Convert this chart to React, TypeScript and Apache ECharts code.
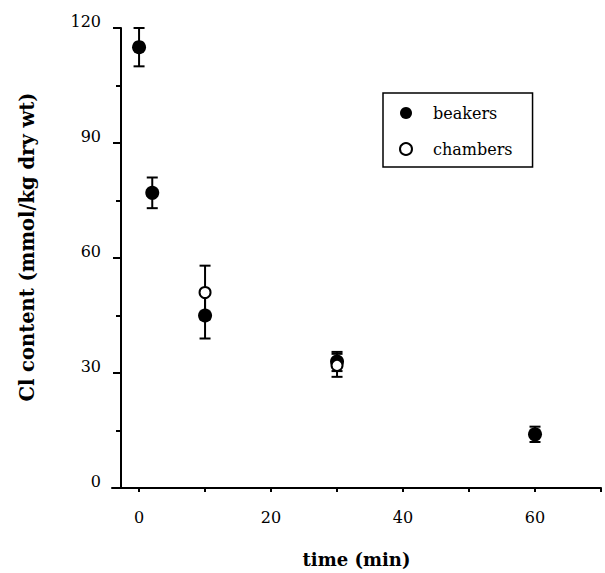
import React, { useEffect, useRef } from "react";
import * as echarts from "echarts";

const beakerTimes = [0, 2, 10, 30, 60];
const beakerMeans = [115, 77, 45, 33, 14];
const beakerErrs = [5, 4, 6, 2.5, 2];

const chamberTimes = [10, 30];
const chamberMeans = [51, 32];
const chamberErrs = [7, 3];

const xTickValues = [0, 10, 20, 30, 40, 50, 60, 70];
const xLabelValues = [0, 20, 40, 60];

const FONT = "DejaVu Serif";

function errorSeries(name: string, times: number[], means: number[], errs: number[]) {
  return {
    type: "custom",
    name,
    silent: true,
    z: 1,
    data: times.map((t, i) => [t, means[i], errs[i]]),
    renderItem: (params: any, api: any) => {
      const x = api.value(0);
      const y = api.value(1);
      const e = api.value(2);
      const top = api.coord([x, y + e]);
      const bot = api.coord([x, y - e]);
      const hw = 5.5;
      const style = { stroke: "#000", lineWidth: 2 };
      return {
        type: "group",
        children: [
          { type: "line", shape: { x1: top[0], y1: top[1], x2: bot[0], y2: bot[1] }, style },
          { type: "line", shape: { x1: top[0] - hw, y1: top[1], x2: top[0] + hw, y2: top[1] }, style },
          { type: "line", shape: { x1: bot[0] - hw, y1: bot[1], x2: bot[0] + hw, y2: bot[1] }, style },
        ],
      };
    },
  };
}

export default function App() {
  const ref = useRef<HTMLDivElement>(null);
  useEffect(() => {
    if (!ref.current) return;
    const chart = echarts.init(ref.current, null, { renderer: "svg" });
    chart.setOption({
      animation: false,
      backgroundColor: "#fff",
      grid: { left: 112, right: 4, top: 28, bottom: 82, containLabel: false },
      legend: {
        left: 383,
        top: 93,
        orient: "vertical",
        borderColor: "#000",
        borderWidth: 1.5,
        borderRadius: 0,
        padding: [12, 20, 10, 16],
        itemGap: 20,
        itemWidth: 12,
        itemHeight: 12,
        textStyle: { fontFamily: FONT, fontSize: 16, color: "#000", padding: [0, 0, 0, 16] },
        data: [
          { name: "beakers", icon: "circle", itemStyle: { color: "#000", borderWidth: 0, opacity: 1 } },
          {
            name: "chambers",
            icon: "circle",
            itemStyle: { color: "#fff", borderColor: "#000", borderWidth: 2, opacity: 1 },
          },
        ],
      },
      xAxis: {
        type: "value",
        min: -4.1,
        max: 70,
        name: "time (min)",
        nameLocation: "middle",
        nameGap: 62,
        nameTextStyle: { fontFamily: FONT, fontSize: 18, fontWeight: "bold", color: "#000" },
        axisLine: { lineStyle: { color: "#000", width: 2 } },
        axisTick: { show: true, length: 4, customValues: xTickValues, lineStyle: { color: "#000", width: 2 } },
        axisLabel: { customValues: xLabelValues, margin: 21, fontFamily: FONT, fontSize: 16, color: "#000" },
        splitLine: { show: false },
      },
      yAxis: {
        type: "value",
        min: 0,
        max: 120,
        interval: 30,
        offset: -9,
        name: "Cl content (mmol/kg dry wt)",
        nameLocation: "middle",
        nameGap: 84,
        nameTextStyle: {
          fontFamily: FONT,
          fontSize: 19.5,
          fontWeight: "bold",
          color: "#000",
          padding: [0, 0, 0, 22],
        },
        axisLine: { show: true, onZero: false, lineStyle: { color: "#000", width: 2 } },
        axisTick: { show: true, length: 8, lineStyle: { color: "#000", width: 2 } },
        minorTick: { show: true, splitNumber: 2, length: 5, lineStyle: { color: "#000", width: 2 } },
        axisLabel: {
          margin: 20,
          fontFamily: FONT,
          fontSize: 16,
          color: "#000",
          verticalAlign: "bottom",
          lineHeight: 13,
        },
        splitLine: { show: false },
        minorSplitLine: { show: false },
      },
      series: [
        errorSeries("beakers-err", beakerTimes, beakerMeans, beakerErrs),
        errorSeries("chambers-err", chamberTimes, chamberMeans, chamberErrs),
        {
          type: "scatter",
          name: "beakers",
          z: 3,
          symbol: "circle",
          symbolSize: 14,
          itemStyle: { color: "#000", opacity: 1 },
          data: beakerTimes.map((t, i) => [t, beakerMeans[i]]),
        },
        {
          type: "scatter",
          name: "chambers",
          z: 4,
          symbol: "circle",
          symbolSize: 11,
          itemStyle: { color: "#fff", borderColor: "#000", borderWidth: 2, opacity: 1 },
          data: chamberTimes.map((t, i) => [t, chamberMeans[i]]),
        },
      ],
    });
    return () => chart.dispose();
  }, []);
  return (
    <div
      ref={ref}
      style={{ position: "fixed", left: 0, top: 0, width: 605, height: 573 }}
    />
  );
}
